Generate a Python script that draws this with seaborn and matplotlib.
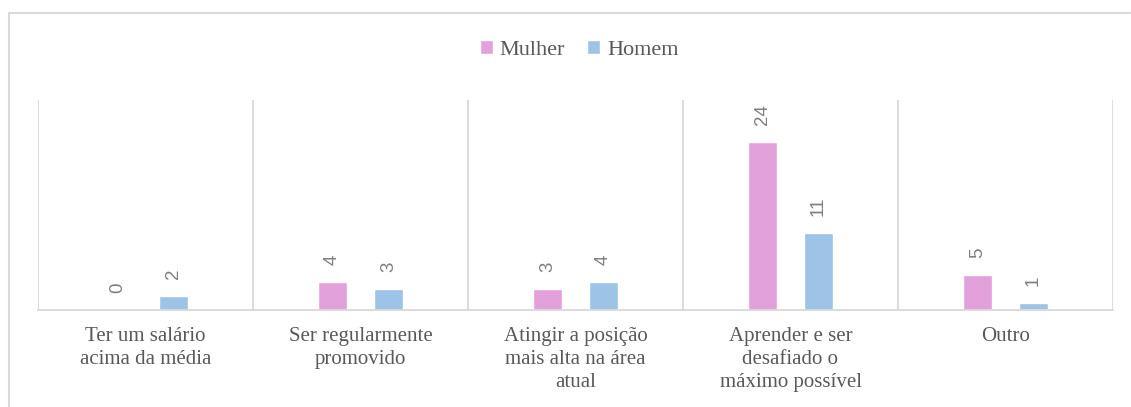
import matplotlib
matplotlib.use("Agg")
import matplotlib.pyplot as plt
import seaborn as sns
import pandas as pd
from matplotlib.lines import Line2D

categories = ["Ter um salário acima da média", "Ser regularmente promovido",
              "Atingir a posição mais alta na área atual",
              "Aprender e ser desafiado o máximo possível", "Outro"]
tick_labels = ["Ter um salário\nacima da média", "Ser regularmente\npromovido",
               "Atingir a posição\nmais alta na área\natual",
               "Aprender e ser\ndesafiado o\nmáximo possível", "Outro"]
mulher = [0, 4, 3, 24, 5]
homem = [2, 3, 4, 11, 1]
series = ["Mulher", "Homem"]
colors = ["#E3A1DB", "#9DC3E6"]

df = pd.DataFrame({
    "cat": categories * 2,
    "val": mulher + homem,
    "sexo": [series[0]] * len(categories) + [series[1]] * len(categories),
})

sns.set_theme(style="white")
plt.rcParams["font.family"] = ["Liberation Serif", "DejaVu Serif"]

fig = plt.figure(figsize=(11.31, 4.07), dpi=100)
ax = fig.add_axes([38 / 1131, 1 - 310 / 407, (1113 - 38) / 1131, 210 / 407])

sns.barplot(data=df, x="cat", y="val", hue="sexo", hue_order=series,
            order=categories, palette=colors, width=0.52, gap=0.48,
            saturation=1, ax=ax, legend=True)

ax.set_ylim(0, 30)
ax.set_xlim(-0.5, len(categories) - 0.5)
ax.set_xlabel("")
ax.set_ylabel("")
ax.set_yticks([])
ax.set_xticks(range(len(categories)))
ax.set_xticklabels(tick_labels, color="#595959", fontsize=15, linespacing=1.3)
ax.tick_params(axis="x", length=0, pad=12)

for s in ["top", "right", "left"]:
    ax.spines[s].set_visible(False)
ax.spines["bottom"].set_color("#D9D9D9")
ax.spines["bottom"].set_linewidth(1.3)

for b in range(len(categories) + 1):
    ax.axvline(b - 0.5, color="#D9D9D9", lw=1.3, zorder=0)

for cont in ax.containers:
    ax.bar_label(cont, rotation=90, padding=12, color="#7F7F7F",
                 fontsize=13.5, family="Liberation Sans")

sns.move_legend(ax, "center", bbox_to_anchor=(0.512, 1 - 50 / 407),
                bbox_transform=fig.transFigure, ncol=2, frameon=False,
                title=None, fontsize=16, handlelength=0.6, handleheight=0.6,
                handletextpad=0.3, columnspacing=1.0)
for t in ax.get_legend().get_texts():
    t.set_color("#595959")

# outer chart border (partially cropped in reference)
fig.add_artist(Line2D([9 / 1131, 1130 / 1131], [1 - 13 / 407, 1 - 13 / 407],
                      transform=fig.transFigure, color="#D9D9D9", lw=1.5))
fig.add_artist(Line2D([9 / 1131, 9 / 1131], [0, 1 - 13 / 407],
                      transform=fig.transFigure, color="#D9D9D9", lw=1.5))

fig.savefig("out.png", dpi=100)
